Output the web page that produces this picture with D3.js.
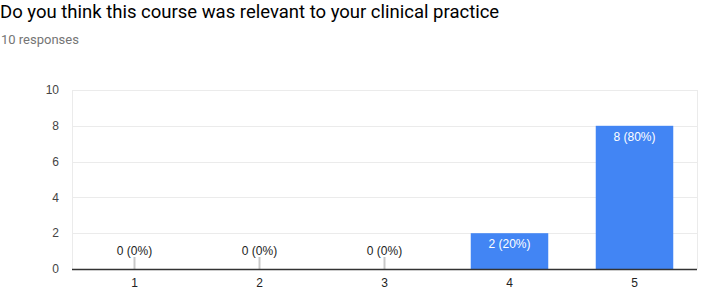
<!DOCTYPE html>
<html>
	<head>
		<meta charset="utf-8" />
		<title>Course relevance</title>
		<script src="https://d3js.org/d3.v7.min.js"></script>
		<style>
			body { margin: 0; background: #fff; }
		</style>
	</head>
	<body>
		<svg width="702" height="289"></svg>
		<script>
			const categories = ["1", "2", "3", "4", "5"];
			const counts = [0, 0, 0, 2, 8];
			const percents = [0, 0, 0, 20, 80];
			const yTicks = [0, 2, 4, 6, 8, 10];
			const title = "Do you think this course was relevant to your clinical practice";
			const subtitle = "10 responses";

			const svg = d3.select("svg");
			const plotLeft = 72, plotRight = 697, plotTop = 90, plotBottom = 269;

			// Header text
			svg.append("text")
				.attr("x", 0)
				.attr("y", 18)
				.text(title)
				.style("font-family", "Roboto")
				.style("font-size", "18.5px")
				.style("fill", "#000");

			svg.append("text")
				.attr("x", 1)
				.attr("y", 44)
				.text(subtitle)
				.style("font-family", "Roboto")
				.style("font-size", "13px")
				.style("fill", "#757575");

			const x = d3.scaleBand()
				.domain(categories)
				.range([plotLeft, plotRight])
				.paddingInner(0.38)
				.paddingOuter(0.19);

			const y = d3.scaleLinear()
				.domain([0, 10])
				.range([plotBottom, plotTop]);

			// Gridlines
			svg.append("g")
				.selectAll("line")
				.data(yTicks)
				.enter()
				.append("line")
				.attr("x1", plotLeft)
				.attr("x2", plotRight)
				.attr("y1", (d) => Math.round(y(d)) + 0.5)
				.attr("y2", (d) => Math.round(y(d)) + 0.5)
				.style("stroke", "#ebebeb")
				.style("stroke-width", 1);

			// side borders
			[plotLeft, plotRight].forEach((px) => {
				svg.append("line")
					.attr("x1", px + 0.5)
					.attr("x2", px + 0.5)
					.attr("y1", plotTop)
					.attr("y2", plotBottom)
					.style("stroke", "#ebebeb");
			});

			// Y labels
			svg.append("g")
				.selectAll("text")
				.data(yTicks)
				.enter()
				.append("text")
				.attr("x", 59)
				.attr("y", (d) => y(d))
				.attr("dy", "0.35em")
				.text((d) => d)
				.style("font-family", "Arial, 'Liberation Sans'")
				.style("font-size", "12px")
				.style("fill", "#444")
				.style("text-anchor", "end");

			const rows = categories.map((c, i) => ({ c, n: counts[i], p: percents[i] }));

			// Bars
			svg.append("g")
				.selectAll("rect")
				.data(rows.filter((d) => d.n > 0))
				.enter()
				.append("rect")
				.attr("x", (d) => x(d.c))
				.attr("width", x.bandwidth())
				.attr("y", (d) => y(d.n))
				.attr("height", (d) => y(0) - y(d.n))
				.style("fill", "#4285f4");

			// Zero-value stubs
			svg.append("g")
				.selectAll("line")
				.data(rows.filter((d) => d.n === 0))
				.enter()
				.append("line")
				.attr("x1", (d) => x(d.c) + x.bandwidth() / 2)
				.attr("x2", (d) => x(d.c) + x.bandwidth() / 2)
				.attr("y1", y(0) - 12)
				.attr("y2", y(0))
				.style("stroke", "#c8c8c8")
				.style("stroke-width", 2);

			// Value labels
			svg.append("g")
				.selectAll("text")
				.data(rows)
				.enter()
				.append("text")
				.attr("x", (d) => x(d.c) + x.bandwidth() / 2)
				.attr("y", (d) => (d.n > 0 ? y(d.n) + 15 : y(0) - 14))
				.text((d) => `${d.n} (${d.p}%)`)
				.style("font-family", "Arial, 'Liberation Sans'")
				.style("font-size", "12px")
				.style("fill", (d) => (d.n > 0 ? "#fff" : "#222"))
				.style("text-anchor", "middle");

			// Baseline
			svg.append("line")
				.attr("x1", plotLeft)
				.attr("x2", plotRight)
				.attr("y1", plotBottom + 0.5)
				.attr("y2", plotBottom + 0.5)
				.style("stroke", "#333")
				.style("stroke-width", 1.5);

			// X labels
			svg.append("g")
				.selectAll("text")
				.data(categories)
				.enter()
				.append("text")
				.attr("x", (d) => x(d) + x.bandwidth() / 2)
				.attr("y", 287)
				.text((d) => d)
				.style("font-family", "Arial, 'Liberation Sans'")
				.style("font-size", "12px")
				.style("fill", "#222")
				.style("text-anchor", "middle");
		</script>
	</body>
</html>
